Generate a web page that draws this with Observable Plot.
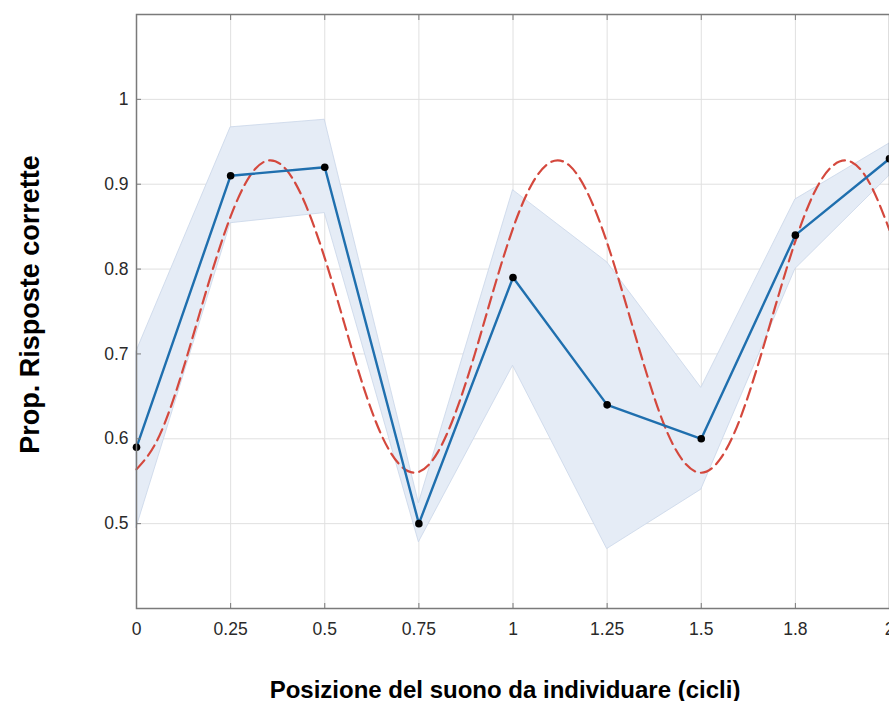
<!DOCTYPE html>
<html>
<head>
<meta charset="utf-8">
<script src="https://cdn.jsdelivr.net/npm/d3@7"></script>
<script src="https://cdn.jsdelivr.net/npm/@observablehq/plot@0.6"></script>
<style>
  html, body { margin: 0; padding: 0; background: #fff; overflow: hidden; }
  #chart svg { display: block; overflow: hidden; }
</style>
</head>
<body>
<div id="chart"></div>
<script>
// Observed proportion of correct responses
const positions = [0, 0.25, 0.5, 0.75, 1, 1.25, 1.5, 1.75, 2];
const propCorrect = [0.59, 0.91, 0.92, 0.50, 0.79, 0.64, 0.60, 0.84, 0.93];
const bandUpper = [0.703, 0.967, 0.976, 0.524, 0.893, 0.808, 0.660, 0.882, 0.948];
const bandLower = [0.495, 0.854, 0.866, 0.478, 0.686, 0.470, 0.540, 0.800, 0.910];

// Fitted oscillation (dashed)
const fitX = [0, 0.05, 0.1, 0.15, 0.2, 0.25, 0.3, 0.35, 0.4, 0.45, 0.5, 0.55, 0.6, 0.65, 0.7, 0.75, 0.8, 0.85, 0.9, 0.95,
              1, 1.05, 1.1, 1.15, 1.2, 1.25, 1.3, 1.35, 1.4, 1.45, 1.5, 1.55, 1.6, 1.65, 1.7, 1.75, 1.8, 1.85, 1.9, 1.95, 2];
const fitY = [0.564, 0.594, 0.649, 0.721, 0.796, 0.862, 0.909, 0.928, 0.916, 0.875, 0.813, 0.739, 0.665, 0.605, 0.569, 0.561, 0.584, 0.634, 0.702, 0.778,
              0.848, 0.900, 0.926, 0.922, 0.888, 0.831, 0.759, 0.684, 0.618, 0.575, 0.560, 0.576, 0.620, 0.686, 0.761, 0.833, 0.890, 0.922, 0.926, 0.899, 0.846];

// Axis ticks
const xTicks = [0, 0.25, 0.5, 0.75, 1, 1.25, 1.5, 1.75, 2];
const xTickLabels = ["0", "0.25", "0.5", "0.75", "1", "1.25", "1.5", "1.8", "2"];
const yTicks = [0.5, 0.6, 0.7, 0.8, 0.9, 1];
const yTickLabels = ["0.5", "0.6", "0.7", "0.8", "0.9", "1"];

const xTitle = "Posizione del suono da individuare (cicli)";
const yTitle = "Prop. Risposte corrette";

const obs = positions.map((x, i) => ({x, y: propCorrect[i], lo: bandLower[i], hi: bandUpper[i]}));
const fit = fitX.map((x, i) => ({x, y: fitY[i]}));

const font = "'Liberation Sans', Arial, Helvetica, sans-serif";
const axisColor = "#7a7a7a";

const plot = Plot.plot({
  width: 889,
  height: 701,
  marginLeft: 136,
  marginRight: 0,
  marginTop: 14,
  marginBottom: 93,
  style: {fontFamily: font, fontSize: "17px", color: "#2a2a2a", background: "#fff"},
  x: {domain: [0, 2]},
  y: {domain: [0.4, 1.1]},
  marks: [
    Plot.gridX(xTicks, {stroke: "#e0e0e0", strokeOpacity: 1}),
    Plot.gridY(yTicks, {stroke: "#e0e0e0", strokeOpacity: 1}),
    Plot.areaY(obs, {x: "x", y1: "lo", y2: "hi", fill: "#e5ecf6", stroke: "#c9d6e8", strokeWidth: 0.8}),
    Plot.line(fit, {x: "x", y: "y", stroke: "#d4483d", strokeWidth: 2.2, strokeDasharray: "12,6", curve: "natural"}),
    Plot.line(obs, {x: "x", y: "y", stroke: "#1f6fae", strokeWidth: 2.4}),
    Plot.dot(obs, {x: "x", y: "y", r: 3.8, fill: "#000", stroke: "none"}),
    Plot.frame({stroke: axisColor, strokeWidth: 1.5}),
    Plot.axisX(xTicks, {
      anchor: "bottom", tickSize: -5, tickPadding: 19, stroke: axisColor,
      tickFormat: (d, i) => xTickLabels[i], fontSize: 17.5,
      label: xTitle, labelAnchor: "center", labelOffset: 89
    }),
    Plot.axisX(xTicks, {anchor: "top", tickSize: -5, stroke: axisColor, tickFormat: () => "", label: null}),
    Plot.axisY(yTicks, {
      anchor: "left", tickSize: -5, tickPadding: 13, stroke: axisColor,
      tickFormat: (d, i) => yTickLabels[i], fontSize: 17.5,
      label: yTitle, labelAnchor: "center", labelOffset: 117
    })
  ]
});

document.getElementById("chart").appendChild(plot);

// Axis titles: bold, black, no arrows
d3.select(plot).selectAll("g[aria-label='x-axis label'] text")
  .text(xTitle).attr("font-weight", "bold").attr("font-size", 24).attr("fill", "#000").attr("dx", -8);
d3.select(plot).selectAll("g[aria-label='y-axis label'] text")
  .text(yTitle).attr("font-weight", "bold").attr("font-size", 27).attr("fill", "#000").attr("dx", 7);
</script>
</body>
</html>
